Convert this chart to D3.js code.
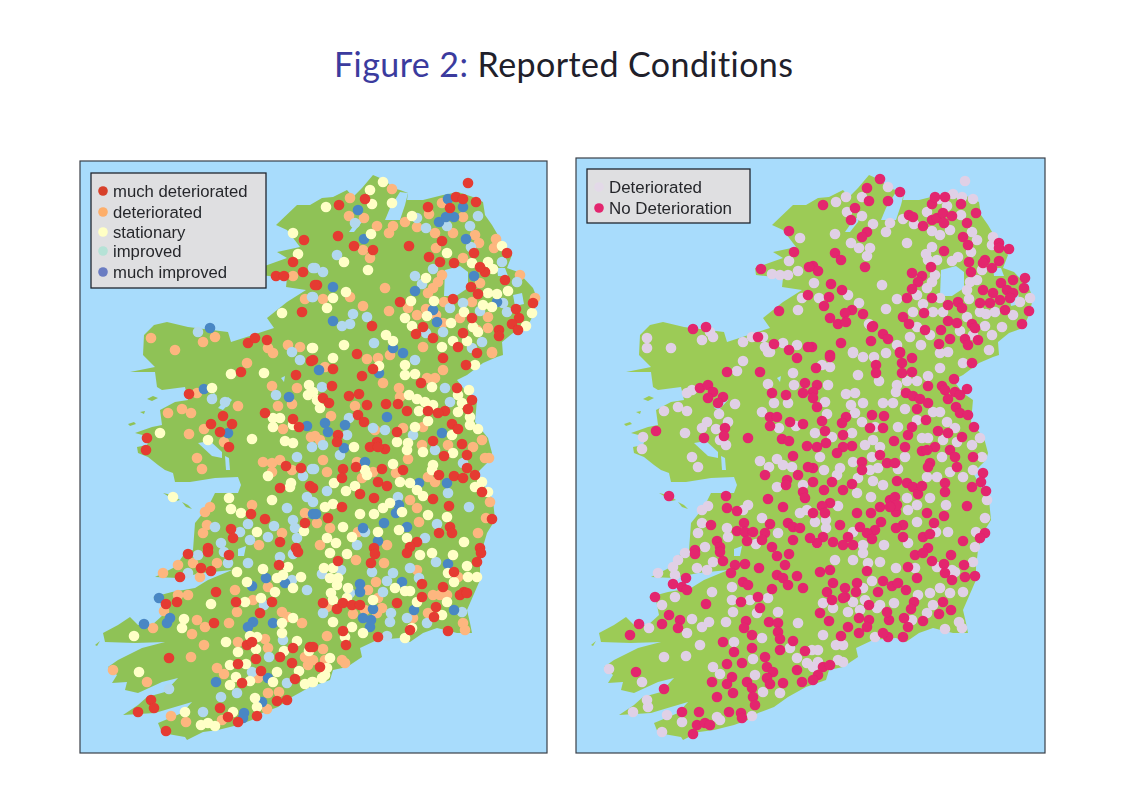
<!DOCTYPE html>
<html>
  <head>
    <title>Figure 2: Reported Conditions</title>
    <style>
      html, body { margin: 0; padding: 0; background: #fff; }
      svg { display: block; }
    </style>
  </head>
  <body>
    <script src="https://d3js.org/d3.v7.min.js"></script>
    <script>
      var w = 1122, h = 799;

      // map units are pixels of the left panel, the right panel is the same map shifted
      var coast = [[373,175],[380,178],[388,183],[392,188],[400,190],[408,193],[407,200],[423,200],[443,195],[458,192],[473,197],[483,202],[485,215],[492,225],[502,242],[512,255],[507,268],[518,272],[533,288],[537,298],[533,315],[527,328],[513,333],[502,342],[503,355],[497,357],[483,363],[467,375],[457,380],[467,393],[477,400],[475,422],[488,438],[492,453],[490,460],[477,473],[487,490],[493,500],[495,520],[487,533],[482,550],[480,567],[480,580],[467,610],[470,623],[472,633],[457,633],[437,628],[423,633],[410,642],[400,638],[377,640],[360,648],[362,657],[347,667],[333,670],[330,680],[310,687],[292,697],[278,707],[262,713],[252,720],[238,725],[218,730],[203,732],[187,740],[185,737],[162,733],[158,723],[182,713],[192,702],[175,707],[155,713],[123,715],[138,705],[147,697],[165,692],[178,678],[162,682],[138,693],[125,690],[127,682],[112,683],[117,675],[108,667],[118,660],[142,648],[165,642],[135,643],[105,642],[103,633],[118,625],[130,617],[138,625],[152,625],[163,615],[160,600],[153,597],[172,592],[195,588],[208,580],[232,570],[202,573],[178,578],[155,577],[175,567],[185,553],[193,550],[195,523],[208,507],[215,493],[238,493],[241,485],[238,477],[215,478],[190,482],[175,482],[173,473],[165,470],[158,465],[148,457],[138,453],[137,447],[147,445],[150,437],[135,433],[152,427],[162,425],[160,410],[175,402],[188,400],[185,387],[162,390],[157,387],[155,372],[130,372],[155,367],[143,355],[144,335],[154,325],[167,322],[188,327],[228,332],[231,342],[274,328],[267,318],[287,302],[306,290],[286,287],[287,278],[260,275],[259,268],[287,258],[277,252],[300,247],[287,230],[276,225],[297,205],[310,205],[322,198],[333,197],[347,190],[353,197],[362,188]];
      var islands = [
        [[147,399],[153,396],[158,398],[152,401]],
        [[140,412],[145,411],[144,414]],
        [[128,424],[134,422],[136,424],[130,426]],
        [[163,493],[172,495],[180,500],[176,501]],
        [[182,502],[188,505],[192,509],[186,507]],
        [[95,645],[100,641],[97,646]]
      ];
      var lakes = [
        [[385,220],[390,208],[400,192],[408,193],[405,205],[400,220]],
        [[349,232],[356,222],[364,215],[362,222],[354,232]],
        [[445,270],[460,266],[468,272],[468,288],[456,296],[444,296]],
        [[497,268],[505,268],[508,276],[498,276]],
        [[513,295],[522,293],[524,304],[515,306]],
        [[198,443],[210,441],[222,452],[222,458],[212,456]],
        [[225,456],[229,458],[230,470],[226,470]],
        [[218,408],[228,397],[232,400],[223,410]],
        [[208,399],[214,393],[217,396],[212,402]],
        [[281,378],[285,376],[284,382]],
        [[238,549],[246,546],[244,556],[238,556]]
      ];

      var legendLeft = ["much deteriorated", "deteriorated", "stationary", "improved", "much improved"];
      var legendLeftColors = ["#d7412c", "#fdae6b", "#ffffc4", "#b5e2d6", "#6a7cc2"];
      var legendRight = ["Deteriorated", "No Deterioration"];
      var legendRightColors = ["#e3d9e8", "#e3256e"];

      var colorMuchDet = "#e53a30", colorDet = "#fdb67f", colorStat = "#ffffc6", colorImp = "#b2d8ee", colorMuchImp = "#4a87c4";
      var colorLilac = "#e0d0e6", colorPink = "#e3256e";

      var muchDeteriorated = [[468,183],[456,197],[463,199],[476,202],[450,208],[428,207],[365,199],[339,205],[338,236],[354,246],[373,250],[409,246],[442,241],[429,257],[440,262],[454,263],[474,253],[485,272],[480,267],[505,280],[471,287],[478,294],[453,299],[400,302],[317,285],[472,318],[423,327],[416,334],[372,326],[433,338],[463,333],[458,347],[516,309],[519,318],[512,324],[499,330],[499,336],[518,330],[533,303],[507,253],[477,353],[357,354],
        [304,240],[293,262],[303,272],[276,276],[284,276],[302,312],[315,285],[248,343],[255,338],[267,340],
        [241,372],[296,375],[311,361],[189,394],[265,413],[223,416],[211,424],[232,424],[220,432],[229,447],[147,438],[146,450],[293,419],[299,427],[286,466],[301,468],[280,488],[310,486],[251,514],[265,519],[231,529],[233,538],[280,542],[208,548],[305,523],[296,548],
        [313,360],[333,369],[362,376],[373,369],[443,358],[466,365],[332,386],[421,383],[349,396],[359,394],[323,398],[329,403],[367,405],[386,404],[398,404],[407,411],[358,415],[364,422],[397,432],[457,388],[472,400],[468,409],[445,411],[438,413],[428,411],[452,424],[458,429],[338,435],[337,442],[433,441],[462,444],[467,455],[444,456],[377,442],[370,447],[385,449],[378,447],[343,469],[342,478],[356,467],[382,469],[403,470],[439,475],[454,476],[467,468],[463,478],[475,475],[482,492],[378,482],[387,486],[313,488],[360,494],[374,498],[433,499],[449,506],[342,507],[328,518],[492,519],[450,527],[452,533],[439,533],[417,542],[410,547],[374,548],[480,548],
        [188,554],[208,552],[229,555],[201,568],[211,571],[180,577],[216,592],[236,602],[272,602],[166,604],[177,602],[214,623],[260,613],[279,565],[247,645],[252,642],[169,658],[256,659],[238,664],[280,657],[293,648],[292,663],[261,671],[295,679],[242,683],[151,700],[154,708],[138,712],[220,708],[277,701],[287,700],[228,717],[238,722],[257,716],[166,731],[310,647],[298,552],
        [338,561],[371,563],[375,554],[407,553],[481,553],[477,562],[454,572],[422,584],[443,587],[422,597],[397,603],[464,592],[460,595],[467,593],[436,607],[434,617],[448,631],[337,609],[323,603],[343,603],[352,605],[360,605],[378,637],[343,631],[346,645],[313,647],[320,667],[410,630]];

      var deteriorated = [[392,189],[350,198],[349,216],[364,218],[377,226],[389,233],[393,226],[405,222],[417,227],[429,214],[442,203],[463,217],[435,233],[453,233],[436,248],[475,235],[479,243],[494,248],[496,239],[363,250],[370,258],[385,288],[350,297],[323,299],[363,306],[389,311],[408,308],[417,315],[426,309],[436,315],[444,302],[442,275],[438,282],[433,288],[428,293],[463,258],[480,283],[472,302],[488,317],[488,328],[477,330],[443,323],[423,347],[492,352],[520,275],[535,298],[460,318],
        [305,299],[293,276],[175,350],[151,338],[215,337],[203,342],[268,348],[288,345],[300,347],[273,353],
        [247,363],[272,386],[297,388],[292,404],[278,406],[238,406],[168,413],[182,409],[191,413],[189,434],[204,429],[224,442],[197,458],[202,469],[263,462],[272,463],[280,460],[272,472],[292,470],[283,429],[311,437],[252,505],[210,507],[205,512],[203,533],[207,525],[282,533],[259,545],[305,513],[197,393],
        [492,353],[390,355],[367,359],[378,358],[325,367],[443,370],[383,383],[427,378],[435,378],[399,388],[400,397],[355,406],[331,416],[423,427],[422,445],[315,436],[320,440],[403,428],[448,445],[473,447],[482,440],[485,458],[489,458],[323,460],[408,459],[357,462],[327,472],[362,478],[428,477],[435,482],[396,473],[373,472],[410,500],[417,508],[419,522],[486,518],[490,502],[330,528],[358,532],[478,533],[320,545],[387,545],[317,523],[375,430],
        [163,573],[178,565],[200,577],[193,563],[217,563],[188,595],[178,595],[235,590],[268,587],[253,600],[237,612],[282,612],[288,617],[302,623],[164,611],[153,628],[197,620],[205,627],[229,623],[192,634],[204,645],[191,657],[238,642],[265,639],[268,648],[217,668],[224,674],[113,670],[147,682],[258,678],[268,693],[305,657],[308,665],[267,709],[171,716],[186,722],[222,720],[279,692],
        [356,560],[384,563],[417,570],[376,582],[368,590],[378,598],[382,608],[377,613],[365,610],[353,614],[327,607],[433,595],[447,595],[440,595],[428,613],[327,636],[463,623],[465,630],[323,649],[313,660],[325,660],[342,660],[345,663],[413,618],[458,577]];

      var stationary = [[383,182],[370,190],[326,207],[372,204],[392,203],[412,216],[371,234],[447,253],[502,246],[472,263],[488,262],[493,269],[344,262],[368,270],[426,278],[346,292],[333,298],[327,308],[411,301],[434,301],[405,318],[412,326],[427,316],[451,323],[464,312],[483,305],[492,307],[488,293],[497,294],[508,291],[532,313],[526,326],[473,327],[478,332],[386,335],[393,341],[344,345],[313,348],[442,347],[453,341],[467,341],
        [293,233],[298,254],[282,313],[312,348],
        [231,374],[264,373],[212,388],[309,385],[308,395],[160,433],[208,440],[252,439],[273,418],[280,418],[273,427],[293,425],[285,441],[293,443],[268,476],[291,483],[290,487],[173,497],[229,498],[231,509],[241,513],[272,500],[257,532],[304,531],
        [333,358],[405,365],[405,375],[415,374],[475,365],[379,366],[432,387],[469,390],[409,395],[417,399],[425,402],[433,405],[419,411],[458,395],[462,403],[458,412],[470,417],[470,425],[478,429],[428,421],[415,427],[313,392],[317,400],[320,408],[397,442],[408,443],[407,450],[423,452],[452,435],[453,453],[354,447],[433,465],[432,470],[393,464],[365,470],[367,475],[400,482],[410,483],[417,490],[423,496],[334,483],[346,491],[355,486],[482,482],[488,492],[475,487],[325,507],[333,504],[383,508],[390,503],[402,512],[428,515],[447,517],[360,514],[374,514],[343,527],[378,532],[399,530],[327,538],[336,543],[352,537],[407,538],[464,542],
        [263,569],[237,572],[247,582],[288,567],[283,575],[301,577],[293,588],[277,578],[275,592],[211,604],[245,602],[261,598],[184,619],[182,628],[134,636],[293,618],[282,623],[282,633],[250,636],[257,637],[297,641],[226,642],[238,652],[256,649],[284,651],[309,651],[230,665],[246,664],[139,672],[236,677],[250,681],[230,685],[273,682],[277,672],[299,671],[305,684],[312,682],[255,698],[257,707],[233,712],[185,712],[201,725],[208,723],[215,726],
        [330,553],[347,554],[420,555],[432,553],[453,555],[324,568],[333,568],[330,578],[338,578],[337,585],[331,593],[333,600],[348,588],[347,598],[373,600],[395,588],[405,591],[410,591],[417,602],[467,566],[448,573],[454,582],[468,577],[477,577],[447,602],[442,615],[333,622],[352,627],[363,633],[345,637],[412,628],[405,638],[330,658],[327,668],[322,678],[313,682],[325,675]];

      var improved = [[355,223],[337,255],[315,268],[323,272],[313,297],[353,314],[367,317],[342,326],[350,324],[415,276],[422,284],[417,218],[426,228],[447,226],[470,226],[478,216],[433,269],[471,247],[502,262],[517,282],[450,308],[463,303],[480,311],[507,312],[503,303],[443,332],[374,343],[482,342],[472,348],[426,333],
        [198,332],[312,297],[313,268],
        [212,399],[225,402],[276,395],[297,457],[303,476],[312,447],[312,469],[287,508],[307,497],[215,527],[248,524],[240,532],[274,526],[250,540],[221,543],[268,537],[295,528],[293,520],[297,538],[292,352],[300,360],
        [415,360],[322,387],[445,388],[450,402],[349,418],[347,435],[413,435],[385,430],[373,428],[323,445],[435,450],[340,455],[463,463],[314,469],[327,491],[398,497],[313,502],[448,493],[469,507],[437,524],[365,532],[425,538],[357,545],
        [198,555],[188,573],[224,552],[248,563],[228,563],[280,557],[293,554],[292,580],[307,590],[169,689],[221,697],[237,693],[203,712],[269,657],[283,640],[287,683],[252,672],[264,605],
        [322,574],[341,570],[372,572],[436,562],[393,573],[410,568],[387,581],[419,578],[383,592],[350,593],[323,613],[391,613],[407,618],[390,622],[427,623],[387,636],[462,612]];

      var muchImproved = [[358,210],[364,239],[439,222],[446,217],[454,217],[448,199],[463,207],[466,239],[333,287],[415,291],[333,321],[474,276],[437,322],[433,310],[497,302],[403,353],[393,348],
        [210,328],[204,389],[228,433],[289,397],[307,426],[313,514],
        [319,370],[379,373],[387,417],[325,423],[328,432],[344,448],[345,425],[442,433],[447,483],[419,483],[365,462],[399,505],[396,513],[316,514],[384,523],[407,527],[363,528],[378,541],
        [159,598],[144,624],[167,623],[170,618],[252,586],[266,578],[253,622],[248,627],[273,623],[216,682],[244,713],[243,718],[268,678],[262,702],[285,583],
        [360,584],[360,592],[448,564],[402,582],[373,609],[414,610],[454,610],[363,618],[371,620],[370,627]];

      var noDeterioration = [[384,179],[371,188],[404,192],[392,201],[373,201],[359,208],[327,205],[355,220],[371,232],[366,237],[339,253],[345,260],[369,267],[317,266],[322,271],[335,284],[346,290],[333,297],[328,306],[356,310],[349,313],[367,314],[334,318],[342,324],[350,322],[345,343],[375,341],[387,334],[392,339],[316,347],[334,355],[404,352],[377,326],
        [413,215],[417,217],[427,226],[436,220],[441,218],[447,213],[456,216],[448,223],[436,204],[439,197],[449,197],[465,204],[480,213],[471,223],[467,237],[472,245],[448,251],[503,243],[503,248],[513,249],[503,261],[473,262],[489,260],[487,263],[496,268],[435,267],[416,273],[426,276],[422,282],[416,289],[411,298],[436,298],[475,272],[517,280],[529,278],[528,288],[505,283],[511,290],[517,293],[487,290],[497,293],[514,298],[504,300],[494,303],[484,303],[462,302],[452,305],[466,308],[509,310],[533,311],[526,324],[428,313],[407,317],[413,324],[452,321],[461,323],[476,324],[479,328],[429,330],[445,330],[454,339],[443,344],[469,339],[472,345],[482,340],[376,327],
        [293,231],[298,252],[265,269],[313,267],[312,295],[283,311],[197,329],[210,327],[262,337],[278,344],[293,350],[312,347],
        [334,357],[320,368],[380,365],[380,373],[404,353],[416,358],[406,363],[406,373],[416,372],[476,363],[458,379],[432,386],[446,386],[449,390],[471,389],[459,392],[452,399],[464,395],[460,407],[464,413],[472,415],[478,427],[410,393],[417,396],[424,399],[432,403],[421,409],[430,420],[321,385],[317,392],[317,398],[321,407],[326,421],[329,431],[350,417],[346,423],[388,416],[376,415],[387,428],[374,428],[416,427],[412,435],[409,447],[398,441],[347,435],[356,446],[347,447],[341,453],[330,443],[321,447],[442,431],[452,433],[466,437],[439,447],[426,451],[431,450],[454,450],[459,457],[461,467],[477,457],[384,455],[366,462],[366,470],[391,463],[399,463],[434,463],[432,467],[317,468],[401,481],[411,483],[417,487],[422,494],[426,486],[449,483],[449,492],[487,473],[485,482],[476,487],[490,491],[336,482],[317,482],[328,490],[347,490],[356,484],[471,506],[448,516],[400,512],[394,500],[399,497],[384,507],[401,505],[394,507],[431,513],[438,523],[361,513],[375,513],[334,503],[326,506],[317,513],[329,513],[344,525],[385,522],[407,525],[400,528],[407,537],[364,527],[379,530],[371,533],[376,539],[327,537],[352,537],[337,542],[321,543],[347,545],[357,545],[489,533],[484,538],[467,541],[427,537],[434,534],[432,548],
        [231,372],[264,372],[301,358],[309,383],[276,393],[290,395],[307,393],[204,388],[212,385],[217,392],[212,398],[227,397],[222,403],[274,417],[281,417],[274,426],[294,422],[307,424],[160,431],[229,428],[228,436],[208,438],[252,438],[286,439],[293,441],[311,446],[297,456],[312,467],[269,475],[302,475],[291,480],[290,485],[307,492],[309,498],[173,496],[230,496],[231,508],[241,511],[272,499],[287,507],[215,525],[292,523],[274,524],[248,523],[241,531],[249,532],[257,532],[297,527],[304,528],[269,533],[297,540],[266,540],[251,541],[221,541],[224,547],[276,547],[199,550],[314,538],
        [199,554],[224,552],[227,561],[249,564],[239,565],[235,573],[263,568],[281,556],[293,554],[289,565],[281,575],[287,578],[292,585],[301,576],[247,582],[252,585],[307,588],[276,589],[190,578],[177,584],[186,587],[191,590],[159,597],[210,604],[245,602],[262,597],[264,608],[173,615],[184,620],[166,624],[182,628],[143,624],[134,635],[250,621],[248,628],[256,635],[273,622],[282,623],[282,632],[284,639],[297,641],[227,642],[238,652],[256,648],[284,650],[309,651],[269,657],[231,664],[246,663],[271,667],[277,672],[140,672],[236,677],[216,682],[231,684],[237,693],[251,682],[256,688],[271,678],[274,684],[287,683],[301,670],[306,682],[168,689],[221,697],[257,697],[259,705],[186,712],[203,712],[233,712],[245,713],[246,718],[201,725],[209,723],[197,734],[214,725],
        [324,572],[334,570],[331,592],[337,583],[349,588],[349,597],[361,583],[360,592],[371,571],[382,592],[387,581],[396,586],[402,583],[410,590],[421,578],[412,567],[419,555],[427,553],[436,561],[455,555],[448,564],[468,565],[449,573],[456,580],[469,577],[479,576],[447,602],[455,610],[443,614],[418,602],[415,609],[427,621],[408,618],[412,627],[407,637],[392,637],[387,633],[393,620],[391,612],[373,605],[373,620],[371,627],[363,618],[363,633],[352,627],[345,636],[333,621],[324,613],[336,600],[347,598],[327,667],[322,675],[317,680],[334,665]];

      var deterioratedAll = [[469,181],[392,187],[350,197],[366,197],[340,202],[351,212],[366,216],[377,224],[394,223],[390,232],[407,219],[418,224],[339,234],[355,243],[363,248],[374,248],[371,256],[411,243],[436,231],[444,235],[454,230],[443,199],[451,206],[457,194],[466,197],[477,199],[431,212],[465,215],[476,232],[481,240],[475,252],[497,237],[496,245],[436,247],[430,254],[432,260],[441,260],[456,261],[462,257],[486,270],[318,283],[386,285],[352,295],[323,298],[363,303],[390,309],[401,299],[439,275],[436,282],[431,288],[421,295],[427,304],[417,312],[437,312],[447,312],[444,298],[474,282],[481,280],[471,290],[473,299],[484,312],[490,314],[471,317],[499,312],[517,315],[534,298],[524,302],[496,335],[506,327],[489,326],[373,324],[414,337],[421,327],[434,335],[425,345],[357,352],[452,352],[493,350],[464,331],[477,335],[401,345],
        [304,238],[293,261],[302,271],[276,274],[284,275],[292,275],[306,298],[302,310],[214,332],[206,340],[217,337],[175,348],[151,338],[151,348],[247,342],[256,337],[267,337],[269,347],[287,343],[301,345],[272,352],
        [357,353],[367,357],[378,357],[390,353],[334,367],[326,365],[362,375],[383,381],[411,381],[421,381],[432,376],[444,368],[444,353],[467,363],[401,385],[400,392],[332,385],[350,394],[359,393],[355,405],[367,403],[387,403],[397,403],[409,409],[329,402],[331,414],[359,413],[366,422],[379,427],[402,427],[444,412],[437,412],[451,422],[459,428],[421,420],[432,438],[426,438],[319,433],[336,437],[356,433],[377,440],[369,445],[384,447],[376,457],[447,440],[461,442],[476,445],[484,438],[486,457],[446,457],[409,457],[324,457],[357,462],[382,468],[374,470],[402,469],[344,468],[328,470],[341,475],[362,478],[431,477],[441,477],[454,472],[467,477],[477,470],[377,481],[387,485],[361,493],[375,497],[434,498],[411,498],[421,505],[342,506],[450,505],[491,500],[489,518],[421,522],[412,510],[330,520],[319,522],[330,528],[357,532],[440,532],[452,532],[480,532],[321,543],[412,543],[367,545],[388,545],[479,547],
        [247,361],[241,371],[274,352],[297,373],[298,385],[272,384],[278,403],[292,403],[196,390],[191,393],[239,404],[266,412],[168,411],[182,407],[191,411],[223,414],[211,422],[206,428],[232,422],[220,429],[189,433],[147,437],[146,449],[224,440],[230,445],[283,428],[300,426],[196,457],[202,467],[264,461],[281,459],[273,467],[287,465],[296,467],[281,487],[212,506],[206,510],[252,505],[247,510],[266,518],[202,533],[206,523],[232,537],[231,528],[282,533],[260,544],[209,547],[304,513],[311,510],[307,485],
        [189,553],[182,560],[201,568],[211,570],[217,562],[162,573],[177,567],[179,575],[216,592],[236,587],[236,600],[237,612],[179,597],[166,605],[254,600],[272,598],[261,613],[282,612],[302,623],[196,619],[206,627],[213,622],[230,622],[191,633],[153,628],[204,645],[168,657],[190,656],[238,642],[266,638],[217,667],[224,674],[113,669],[146,682],[257,659],[259,675],[294,648],[301,658],[267,692],[284,693],[151,700],[152,707],[137,712],[171,715],[186,722],[166,732],[221,717],[256,716],[224,720],[311,663],
        [339,560],[357,560],[372,563],[384,562],[367,553],[400,568],[376,581],[419,568],[441,567],[456,570],[477,562],[459,572],[367,588],[369,600],[357,602],[327,603],[337,608],[352,612],[364,610],[381,608],[384,605],[422,595],[434,593],[444,588],[454,593],[467,592],[398,603],[437,605],[431,613],[449,629],[463,622],[466,628],[327,635],[340,645],[347,645],[342,660],[347,662],[322,650],[316,650],[322,662],[317,667],[379,637],[416,620]];

      var leftSeries = [
        {points: deteriorated, color: colorDet},
        {points: improved, color: colorImp},
        {points: muchImproved, color: colorMuchImp},
        {points: stationary, color: colorStat},
        {points: muchDeteriorated, color: colorMuchDet}
      ];
      var rightSeries = [
        {points: deterioratedAll, color: colorLilac},
        {points: noDeterioration, color: colorPink}
      ];

      var svg = d3.select('body').append('svg').attr('width', w).attr('height', h);
      svg.append('rect').attr('width', w).attr('height', h).attr('fill', '#ffffff');

      var defs = svg.append('defs');
      defs.append('filter').attr('id', 'soft')
        .attr('x', '-2%').attr('y', '-2%').attr('width', '104%').attr('height', '104%')
        .append('feGaussianBlur').attr('stdDeviation', 0.7);
      defs.append('filter').attr('id', 'softText')
        .append('feGaussianBlur').attr('stdDeviation', 0.35);

      var title = svg.append('text').attr('x', 563.5).attr('y', 77).attr('text-anchor', 'middle')
        .attr('font-family', 'Lato, "Open Sans", sans-serif').attr('font-size', 34).attr('textLength', 459)
        .style('font-variant-ligatures', 'none');
      title.append('tspan').attr('fill', '#3b3b9e').text('Figure 2: ');
      title.append('tspan').attr('fill', '#20202a').text('Reported Conditions');

      function panel(left, top, right, landColor, series, legendNames, legendColors, legendBox, legendY, fontSize, shift) {
        var x = d3.scaleLinear().domain([80, 547]).range([80 + shift, 547 + shift]);
        var y = d3.scaleLinear().domain([161, 753]).range([161, 753]);
        var line = d3.line().x(function(d){return x(d[0])}).y(function(d){return y(d[1])}).curve(d3.curveLinearClosed);

        var g = svg.append('g');
        var map = g.append('g').attr('filter', 'url(#soft)');
        map.append('rect').attr('x', left).attr('y', top).attr('width', right - left).attr('height', 753 - top).attr('fill', '#a8dcfc');
        map.selectAll('path.land').data([coast].concat(islands)).enter().append('path').attr('class', 'land')
          .attr('d', line).attr('fill', landColor);
        map.selectAll('path.lake').data(lakes).enter().append('path').attr('class', 'lake')
          .attr('d', line).attr('fill', '#a8dcfc');

        series.forEach(function(s){
          map.append('g').selectAll('circle').data(s.points).enter().append('circle')
            .attr('cx', function(d){return x(d[0])})
            .attr('cy', function(d){return y(d[1])})
            .attr('r', 5.3)
            .attr('fill', s.color);
        });

        g.append('rect').attr('x', left).attr('y', top).attr('width', right - left).attr('height', 753 - top)
          .attr('fill', 'none').attr('stroke', '#3a4048').attr('stroke-width', 1.2);

        g.append('rect').attr('x', legendBox[0]).attr('y', legendBox[1]).attr('width', legendBox[2]).attr('height', legendBox[3])
          .attr('fill', '#dfdfe1').attr('stroke', '#20262e').attr('stroke-width', 1.3);
        var items = g.selectAll('g.item').data(legendNames).enter().append('g').attr('class', 'item').attr('filter', 'url(#softText)');
        items.append('circle')
          .attr('cx', legendBox[0] + 12)
          .attr('cy', function(d, i){return legendY[i]})
          .attr('r', 4.8)
          .attr('fill', function(d, i){return legendColors[i]});
        items.append('text')
          .attr('x', legendBox[0] + 22)
          .attr('y', function(d, i){return legendY[i] + 6})
          .attr('font-family', '"Liberation Sans", Arial, sans-serif')
          .attr('font-size', fontSize)
          .attr('fill', '#26282c')
          .text(function(d){return d});
      }

      panel(80, 161, 547, '#8fc257', leftSeries, legendLeft, legendLeftColors, [91, 173, 175, 115], [191, 212, 232, 251, 272], 16.7, 0);
      panel(576, 158, 1045, '#9ccb57', rightSeries, legendRight, legendRightColors, [587, 169, 163, 54], [187, 208], 16.9, 496);
    </script>
  </body>
</html>
